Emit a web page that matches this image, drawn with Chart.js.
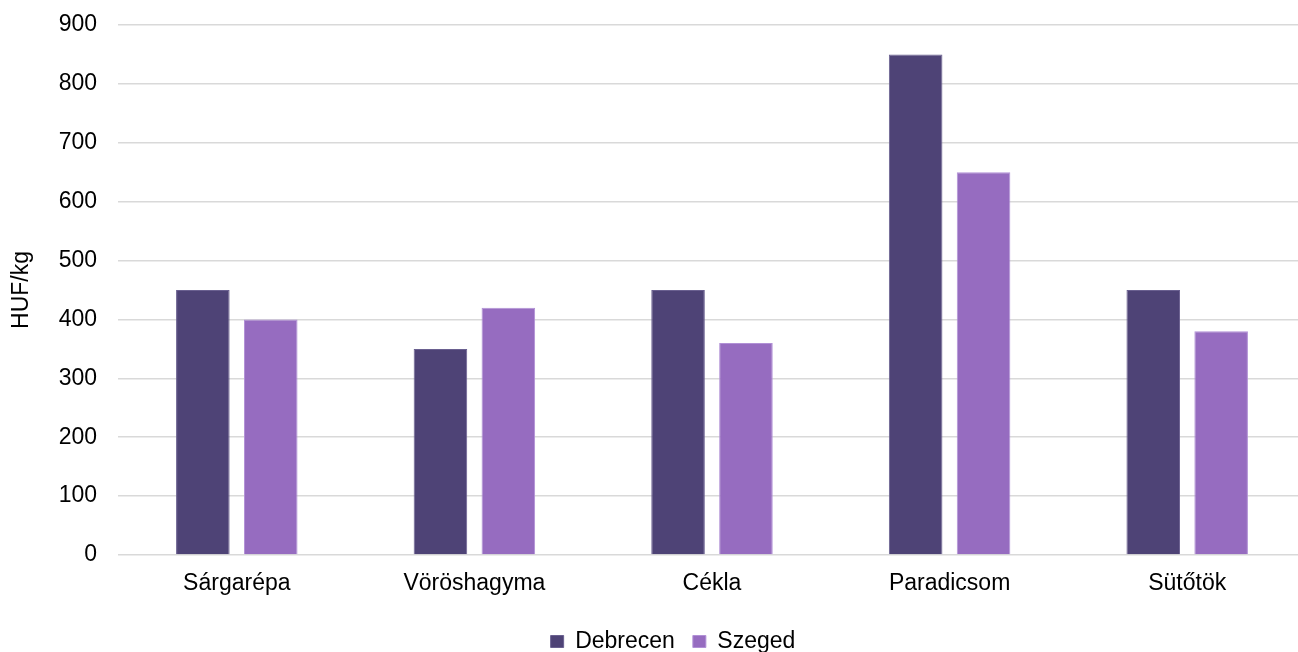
<!DOCTYPE html>
<html>
<head>
<meta charset="utf-8">
<script src="https://cdn.jsdelivr.net/npm/chart.js@4.4.1/dist/chart.umd.min.js"></script>
<style>
  html, body { margin: 0; padding: 0; background: #ffffff; overflow: hidden; width: 1298px; height: 652px; }
  #wrap { position: absolute; left: 0; top: 0; width: 1346px; height: 663px; }
</style>
</head>
<body>
<div id="wrap"><canvas id="c" width="1346" height="663"></canvas></div>
<script>
const categories = ["Sárgarépa", "Vöröshagyma", "Cékla", "Paradicsom", "Sütőtök"];
const debrecen = [450, 350, 450, 850, 450];
const szeged = [400, 420, 360, 650, 380];
const seriesNames = ["Debrecen", "Szeged"];
const yTicks = [0, 100, 200, 300, 400, 500, 600, 700, 800, 900];
const yTitle = "HUF/kg";

const FONT = "'Liberation Sans', Arial, sans-serif";
Chart.defaults.font.family = FONT;
Chart.defaults.font.size = 23;
Chart.defaults.color = '#000000';

new Chart(document.getElementById('c'), {
  type: 'bar',
  data: {
    labels: categories,
    datasets: [
      { label: seriesNames[0], data: debrecen, backgroundColor: '#4E4376', borderColor: '#6A6090', borderWidth: 1 },
      { label: seriesNames[1], data: szeged, backgroundColor: '#966CC0', borderColor: '#B190D6', borderWidth: 1 }
    ]
  },
  options: {
    responsive: false,
    animation: false,
    devicePixelRatio: 1,
    layout: { padding: { top: 25, left: 0, right: 0, bottom: 0 } },
    datasets: { bar: { categoryPercentage: 0.5716, barPercentage: 0.789 } },
    plugins: {
      tooltip: { enabled: false },
      legend: {
        position: 'bottom',
        labels: { boxWidth: 13, boxHeight: 12, padding: 18, font: { size: 23, family: FONT }, color: '#000000' }
      }
    },
    scales: {
      x: {
        grid: { display: false },
        border: { display: false },
        ticks: { padding: 7, font: { size: 23, family: FONT }, color: '#000000', maxRotation: 0 },
        afterFit: (s) => { s.height = 57; }
      },
      y: {
        min: 0, max: 900,
        afterBuildTicks: (s) => { s.ticks = yTicks.map(v => ({ value: v })); },
        grid: { color: '#D9D9D9', lineWidth: 1.5, drawTicks: false },
        border: { display: false },
        ticks: { padding: 21, font: { size: 23, family: FONT }, color: '#000000' },
        title: { display: true, text: yTitle, font: { size: 23, family: FONT }, color: '#000000', padding: { top: 8, bottom: 0 } },
        afterFit: (s) => { s.width = 118; s.paddingTop = 0; s.paddingBottom = 0; }
      },
      yR: {
        type: 'linear',
        position: 'right',
        display: true,
        grid: { display: false },
        border: { display: false },
        ticks: { display: false },
        afterFit: (s) => { s.width = 40; s.paddingTop = 0; s.paddingBottom = 0; }
      }
    }
  }
});
</script>
</body>
</html>
